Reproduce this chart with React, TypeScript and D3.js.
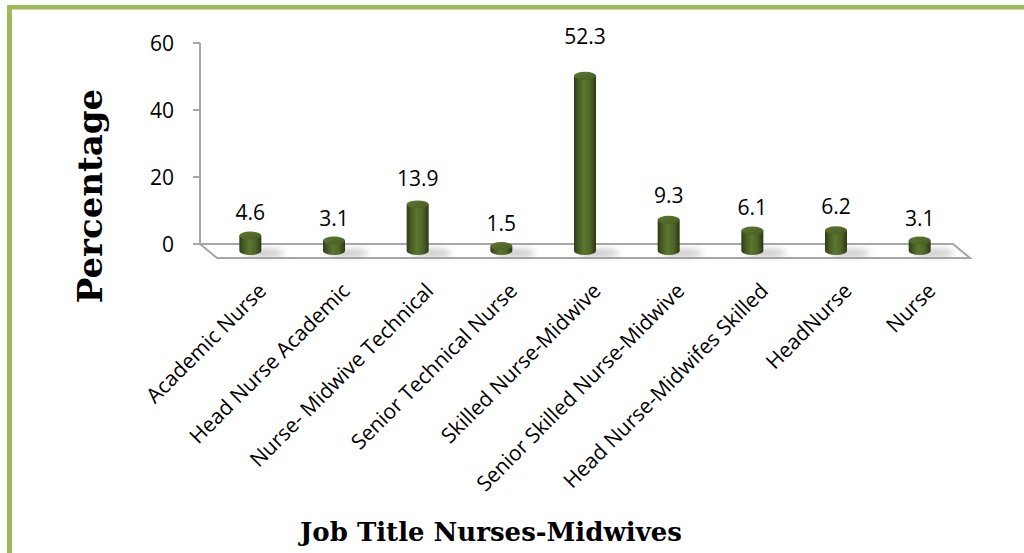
import React from "react";
import * as d3 from "d3";

const categories: string[] = [
  "Academic Nurse",
  "Head Nurse Academic",
  "Nurse- Midwive Technical",
  "Senior Technical Nurse",
  "Skilled Nurse-Midwive",
  "Senior Skilled Nurse-Midwive",
  "Head Nurse-Midwifes Skilled",
  "HeadNurse",
  "Nurse",
];
const values: number[] = [4.6, 3.1, 13.9, 1.5, 52.3, 9.3, 6.1, 6.2, 3.1];
const yTicks: number[] = [0, 20, 40, 60];
const xTitle = "Job Title Nurses-Midwives";
const yTitle = "Percentage";

const W = 1024;
const H = 553;
const X0 = 200;
const X1 = 953;
const Y0 = 244;
const Y1 = 43;
const DX = 17;
const DY = 14;
const BAR_W = 22;
const RY = 4;

export default function App() {
  const y = d3.scaleLinear().domain([0, 60]).range([Y0, Y1]);
  const x = d3.scaleBand<string>().domain(categories).range([X0, X1]).padding(0);
  const labelFont = "'Open Sans', 'Noto Sans', sans-serif";

  const floor = d3.line()([
    [X0, Y0],
    [X1, Y0],
    [X1 + DX, Y0 + DY],
    [X0 + DX, Y0 + DY],
    [X0, Y0],
  ]) as string;

  return (
    <svg
      width={W}
      height={H}
      viewBox={`0 0 ${W} ${H}`}
      style={{ position: "absolute", left: 0, top: 0, background: "#fff" }}
    >
      <defs>
        <linearGradient id="cyl" x1="0" x2="1" y1="0" y2="0">
          <stop offset="0%" stopColor="#2f3c17" />
          <stop offset="18%" stopColor="#455823" />
          <stop offset="45%" stopColor="#5d772f" />
          <stop offset="72%" stopColor="#4f6628" />
          <stop offset="100%" stopColor="#2b3714" />
        </linearGradient>
        <linearGradient id="cylTop" x1="0" x2="1" y1="0" y2="1">
          <stop offset="0%" stopColor="#5e7831" />
          <stop offset="100%" stopColor="#485d23" />
        </linearGradient>
        <filter id="blur" x="-50%" y="-50%" width="200%" height="200%">
          <feGaussianBlur stdDeviation="3" />
        </filter>
      </defs>

      {/* green frame */}
      <rect x={7} y={5} width={W - 7} height={4.5} fill="#9BBB59" />
      <rect x={7} y={5} width={5} height={H - 5} fill="#9BBB59" />

      {/* floor */}
      <path d={floor} fill="#fff" stroke="#a6a6a6" strokeWidth={2} />
      <line x1={193} x2={X0} y1={Y0} y2={Y0} stroke="#a6a6a6" strokeWidth={2} />

      {/* y axis */}
      <line x1={X0} x2={X0} y1={Y1} y2={Y0} stroke="#a6a6a6" strokeWidth={2} />
      {yTicks.map((t) => (
        <g key={t}>
          <line x1={193} x2={X0} y1={y(t)} y2={y(t)} stroke="#a6a6a6" strokeWidth={2} />
          <text
            x={174}
            y={y(t)}
            dy="0.36em"
            textAnchor="end"
            fontFamily={labelFont}
            fontSize={21}
            fill="#000"
          >
            {t}
          </text>
        </g>
      ))}

      {/* bars */}
      {categories.map((c, i) => {
        const cx = (x(c) as number) + x.bandwidth() / 2 + DX / 2;
        const base = Y0 + DY / 2;
        const h = Y0 - y(values[i]);
        const top = base - h;
        const l = cx - BAR_W / 2;
        const r = cx + BAR_W / 2;
        const body = `M${l},${top} L${l},${base} A${BAR_W / 2},${RY} 0 0 0 ${r},${base} L${r},${top} Z`;
        const labelY = top - 14 - 0.1 * h;
        return (
          <g key={c}>
            <ellipse
              cx={cx + 14}
              cy={base + 2}
              rx={20}
              ry={4}
              fill="#9a9a9a"
              opacity={0.55}
              filter="url(#blur)"
            />
            <path d={body} fill="url(#cyl)" />
            <ellipse cx={cx} cy={top} rx={BAR_W / 2} ry={RY} fill="url(#cylTop)" />
            <text
              x={cx}
              y={labelY}
              textAnchor="middle"
              fontFamily={labelFont}
              fontSize={21}
              fill="#000"
            >
              {values[i]}
            </text>
          </g>
        );
      })}

      {/* category labels */}
      {categories.map((c) => {
        const ax = (x(c) as number) + x.bandwidth() / 2 + DX / 2 + 12;
        const ay = 287;
        return (
          <text
            key={c}
            x={ax}
            y={ay}
            dy="0.35em"
            textAnchor="end"
            transform={`rotate(-45 ${ax} ${ay})`}
            fontFamily={labelFont}
            fontSize={21}
            fill="#000"
          >
            {c}
          </text>
        );
      })}

      {/* axis titles */}
      <text
        x={491}
        y={541}
        textAnchor="middle"
        fontFamily="'DejaVu Serif', serif"
        fontWeight="bold"
        fontSize={26}
        fill="#000"
      >
        {xTitle}
      </text>
      <text
        transform={`translate(102 196) rotate(-90)`}
        textAnchor="middle"
        fontFamily="'DejaVu Serif', serif"
        fontWeight="bold"
        fontSize={34}
        fill="#000"
      >
        {yTitle}
      </text>
    </svg>
  );
}
